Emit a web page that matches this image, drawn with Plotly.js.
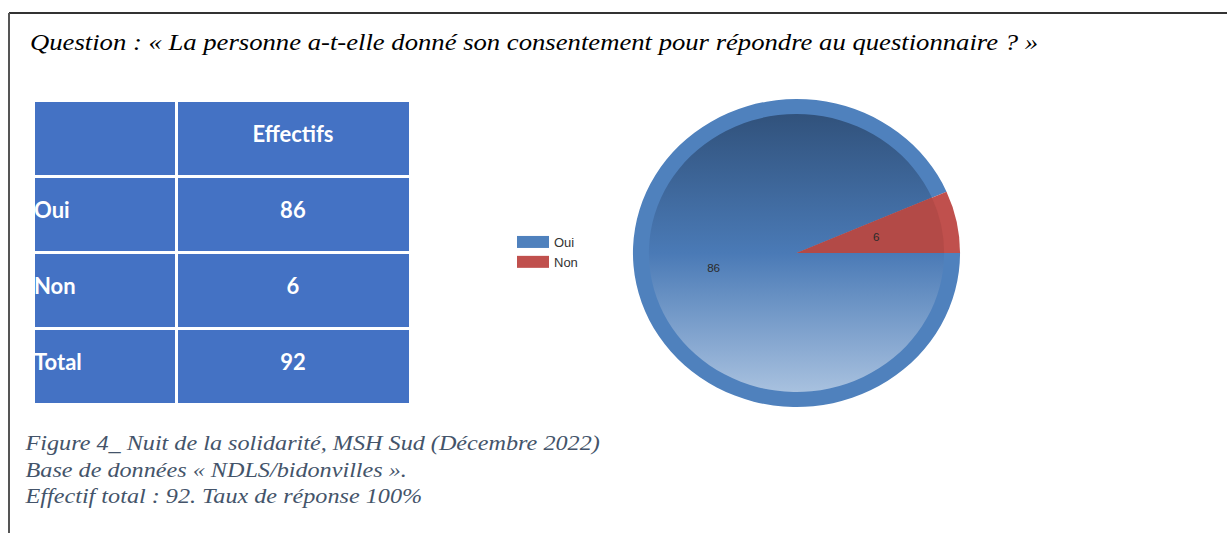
<!DOCTYPE html>
<html>
<head>
<meta charset="utf-8">
<script src="https://cdn.plot.ly/plotly-3.0.1.min.js"></script>
<style>
html,body{margin:0;padding:0;background:#fff;}
#chart{width:1227px;height:533px;}
</style>
</head>
<body>
<div id="chart"></div>
<script>
// ---- data ----
const labels = ["Oui", "Non"];
const values = [86, 6];
const tableHeader = ["", "Effectifs"];
const tableRowLabels = ["Oui", "Non", "Total"];
const tableCounts = [86, 6, 92];
const questionText = "Question : « La personne a-t-elle donné son consentement pour répondre au questionnaire ? »";
const captionLines = [
  "Figure 4_ Nuit de la solidarité, MSH Sud (Décembre 2022)",
  "Base de données « NDLS/bidonvilles ».",
  "Effectif total : 92. Taux de réponse 100%"
];

// ---- layout helpers ----
const W = 1227, H = 533;
const px = x => x / W;
const py = y => 1 - y / H;

const cx = 796.5, cy = 253, R = 154, ring = 15, pieStretch = 1.062;

const ringPie = {
  type: "pie",
  labels: labels,
  values: values,
  sort: false,
  direction: "counterclockwise",
  rotation: 90,
  marker: {colors: ["#4F81BD", "#C0504D"], line: {width: 0}},
  textinfo: "none",
  hoverinfo: "skip",
  domain: {x: [px(cx - R), px(cx + R)], y: [py(cy + R), py(cy - R)]},
  showlegend: true
};
const innerPie = {
  type: "pie",
  labels: labels,
  values: values,
  sort: false,
  direction: "counterclockwise",
  rotation: 90,
  marker: {colors: ["#4A7AB5", "#B34A47"], line: {width: 0}},
  textinfo: "value",
  textposition: "inside",
  insidetextorientation: "horizontal",
  textfont: {family: "Liberation Sans, Arial, sans-serif", size: 11, color: "#2b2b2b"},
  hoverinfo: "skip",
  domain: {x: [px(cx - R + ring), px(cx + R - ring)], y: [py(cy + R - ring), py(cy - R + ring)]},
  showlegend: false
};

const table = {
  type: "table",
  columnwidth: [143, 234],
  domain: {x: [px(33), px(411)], y: [py(405), py(100)]},
  header: {
    values: tableHeader.map(v => "<b>" + v + "</b>"),
    align: ["left", "center"],
    fill: {color: "#4472C4"},
    line: {color: "#FFFFFF", width: 3},
    font: {family: "Lato, Open Sans, sans-serif", size: 22, color: "#FFFFFF"},
    height: 76
  },
  cells: {
    values: [tableRowLabels.map(v => "<b>" + v + "</b>"), tableCounts.map(v => "<b>" + v + "</b>")],
    align: ["left", "center"],
    fill: {color: "#4472C4"},
    line: {color: "#FFFFFF", width: 3},
    font: {family: "Lato, Open Sans, sans-serif", size: 22, color: "#FFFFFF"},
    height: 76
  }
};

const layout = {
  width: W, height: H,
  margin: {l: 0, r: 0, t: 0, b: 0},
  paper_bgcolor: "#FFFFFF",
  plot_bgcolor: "#FFFFFF",
  showlegend: true,
  title: {
    text: "<i>" + questionText + "</i>",
    x: px(30), xanchor: "left", xref: "paper",
    y: py(42), yanchor: "middle", yref: "paper",
    font: {family: "Liberation Serif, Times New Roman, serif", size: 23, color: "#000000"}
  },
  legend: {
    x: px(514), xanchor: "left",
    y: py(227), yanchor: "top",
    font: {family: "Liberation Sans, Arial, sans-serif", size: 13, color: "#333333"},
    bgcolor: "rgba(0,0,0,0)",
    itemwidth: 30,
    tracegroupgap: 0
  },
  annotations: [{
    text: "<i>" + captionLines.join("<br>") + "</i>",
    xref: "paper", yref: "paper",
    x: px(22), xanchor: "left",
    y: py(430), yanchor: "top",
    align: "left",
    showarrow: false,
    font: {family: "Liberation Serif, Times New Roman, serif", size: 20.5, color: "#44546A"}
  }],
  shapes: [
    {type: "line", xref: "paper", yref: "paper", x0: px(9), x1: 1, y0: py(13), y1: py(13), line: {color: "#333333", width: 2}},
    {type: "line", xref: "paper", yref: "paper", x0: px(9), x1: px(9), y0: py(13), y1: 0, line: {color: "#555555", width: 2}}
  ]
};

const NS = "http://www.w3.org/2000/svg";
function prependTransform(el, t) {
  if (!el || el.getAttribute("data-adj")) return;
  el.setAttribute("transform", t + " " + (el.getAttribute("transform") || ""));
  el.setAttribute("data-adj", "1");
}
function stretchX(el, x0, s) {
  prependTransform(el, "translate(" + x0 + ",0) scale(" + s + ",1) translate(" + (-x0) + ",0)");
}

function postProcess() {
  const svg = document.querySelector("#chart svg.main-svg");
  if (!svg) return;
  let defs = svg.querySelector("defs");
  if (!defs) { defs = document.createElementNS(NS, "defs"); svg.insertBefore(defs, svg.firstChild); }
  if (!document.getElementById("ouiGrad")) {
    const g = document.createElementNS(NS, "linearGradient");
    g.setAttribute("id", "ouiGrad");
    g.setAttribute("x1", "0"); g.setAttribute("y1", "0");
    g.setAttribute("x2", "0"); g.setAttribute("y2", "1");
    [["0", "#31527C"], ["0.5", "#4A7AB6"], ["1", "#A8C1DF"]].forEach(([o, c]) => {
      const s = document.createElementNS(NS, "stop");
      s.setAttribute("offset", o); s.setAttribute("stop-color", c);
      g.appendChild(s);
    });
    defs.appendChild(g);
  }
  const traces = document.querySelectorAll("#chart .pielayer .trace");
  if (traces.length > 1) {
    const slices = traces[1].querySelectorAll("path.surface");
    if (slices[0]) slices[0].style.fill = "url(#ouiGrad)";
    // nudge slice labels toward where the reference shows them
    const texts = traces[1].querySelectorAll("g.slice text.slicetext");
    if (texts[0]) prependTransform(texts[0], "translate(-10,1)");
    if (texts[1]) prependTransform(texts[1], "translate(-38,7)");
  }
  // slight horizontal stretch of the pie (reference is elliptical)
  stretchX(document.querySelector("#chart .pielayer"), cx, pieStretch);

  // table text: vertically centred in cells, row labels flush left
  document.querySelectorAll("#chart g.table text").forEach(t => prependTransform(t, "translate(0,12)"));
  const cols = document.querySelectorAll("#chart g.table g.y-column");
  if (cols.length) cols[0].querySelectorAll("text").forEach(t => {
    t.setAttribute("transform", "translate(-7,0) " + (t.getAttribute("transform") || ""));
  });

  // wide legend swatches
  document.querySelectorAll("#chart .legend .legendpoints path").forEach(p => {
    p.setAttribute("d", "M-17,-6H15V6H-17Z");
  });

  // horizontal stretch of the text blocks (reference is widened)
  stretchX(document.querySelector("#chart .infolayer text.gtitle"), 30, 1.16);
  stretchX(document.querySelector("#chart .annotation .annotation-text-g"), 22, 1.18);
}

Plotly.newPlot("chart", [table, ringPie, innerPie], layout, {staticPlot: true, displayModeBar: false}).then(() => {
  postProcess();
});
</script>
</body>
</html>
